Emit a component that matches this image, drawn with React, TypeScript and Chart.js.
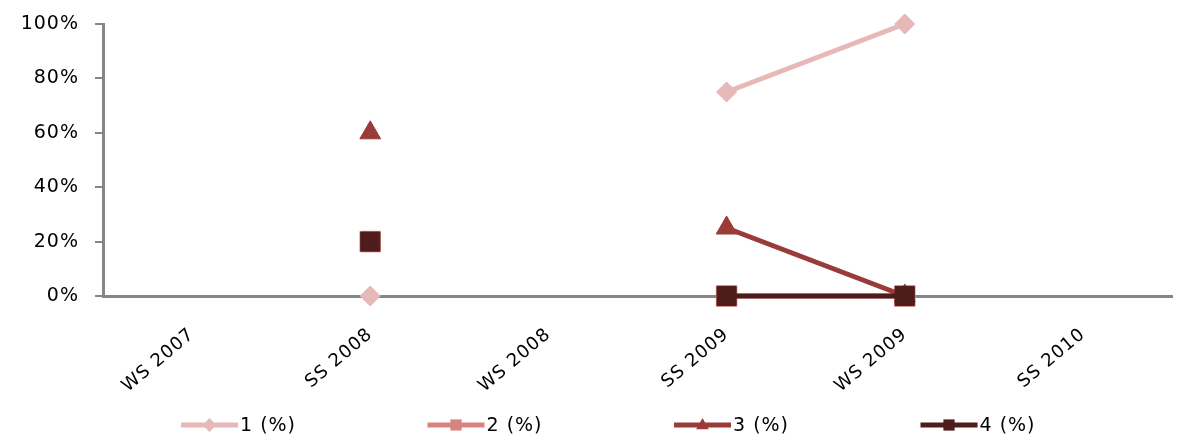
import React, { useEffect, useRef } from 'react';
import { Chart, registerables } from 'chart.js';

Chart.register(...registerables);

const categories = ['WS 2007', 'SS 2008', 'WS 2008', 'SS 2009', 'WS 2009', 'SS 2010'];
const series1 = [null, 0, null, 75, 100, null];
const series2 = [null, 20, null, 0, 0, null];
const series3 = [null, 60, null, 25, 0, null];
const series4 = [null, 20, null, 0, 0, null];
const seriesNames = ['1 (%)', '2 (%)', '3 (%)', '4 (%)'];
const yTickValues = [0, 20, 40, 60, 80, 100];

const colors = ['#E6B9B8', '#D9837F', '#993B38', '#4F1C1C'];
const pointStyles = ['rectRot', 'rect', 'triangle', 'rect'];
const pointRadii = [10, 14.5, 12, 13.5];

const FONT = '"DejaVu Sans", Verdana, sans-serif';
const SPACING = '1px';

const spacingPlugin = {
  id: 'letterSpacing',
  beforeLayout(chart: any) {
    (chart.ctx as any).letterSpacing = SPACING;
  },
  beforeDraw(chart: any) {
    (chart.ctx as any).letterSpacing = SPACING;
  },
};

function drawMarker(ctx: CanvasRenderingContext2D, style: string, x: number, y: number, r: number) {
  ctx.beginPath();
  if (style === 'rectRot') {
    ctx.moveTo(x, y - r);
    ctx.lineTo(x + r, y);
    ctx.lineTo(x, y + r);
    ctx.lineTo(x - r, y);
    ctx.closePath();
  } else if (style === 'triangle') {
    ctx.moveTo(x, y - r);
    ctx.lineTo(x + r * 0.9, y + r * 0.6);
    ctx.lineTo(x - r * 0.9, y + r * 0.6);
    ctx.closePath();
  } else {
    const s = r * 0.8;
    ctx.rect(x - s, y - s, 2 * s, 2 * s);
  }
  ctx.fill();
}

const legendPlugin = {
  id: 'customLegend',
  afterDraw(chart: any) {
    const ctx: CanvasRenderingContext2D = chart.ctx;
    ctx.save();
    (ctx as any).letterSpacing = SPACING;
    const y = 425;
    const startX = 181;
    const step = 246.5;
    const lineLen = 57;
    chart.data.datasets.forEach((ds: any, i: number) => {
      const x0 = startX + i * step;
      ctx.strokeStyle = ds.borderColor;
      ctx.fillStyle = ds.borderColor;
      ctx.lineWidth = 5;
      ctx.beginPath();
      ctx.moveTo(x0, y);
      ctx.lineTo(x0 + lineLen, y);
      ctx.stroke();
      drawMarker(ctx, pointStyles[i], x0 + lineLen / 2, y, 7);
      ctx.fillStyle = '#000000';
      ctx.font = `19px ${FONT}`;
      ctx.textAlign = 'left';
      ctx.textBaseline = 'middle';
      ctx.fillText(ds.label, x0 + lineLen + 2, y + 1);
    });
    ctx.restore();
  },
};

export default function App() {
  const canvasRef = useRef<HTMLCanvasElement | null>(null);

  useEffect(() => {
    if (!canvasRef.current) return;
    const allSeries = [series1, series2, series3, series4];
    const chart = new Chart(canvasRef.current, {
      type: 'line',
      data: {
        labels: categories,
        datasets: allSeries.map((data, i) => ({
          label: seriesNames[i],
          data,
          borderColor: colors[i],
          backgroundColor: colors[i],
          borderWidth: 5,
          pointStyle: pointStyles[i] as any,
          pointRadius: pointRadii[i],
          pointHoverRadius: pointRadii[i],
          pointBorderWidth: 1,
          pointBorderColor: colors[i],
          pointBackgroundColor: colors[i],
          spanGaps: false,
          clip: false as any,
          order: 4 - i,
          tension: 0,
        })),
      },
      options: {
        animation: false,
        responsive: true,
        maintainAspectRatio: false,
        layout: { autoPadding: false, padding: { top: 24, right: 6, left: 0, bottom: 0 } },
        plugins: {
          legend: { display: false },
          tooltip: { enabled: false },
        },
        scales: {
          x: {
            offset: true,
            grid: { display: false, drawTicks: false },
            border: { display: true, color: '#868686', width: 3 },
            ticks: {
              color: '#000000',
              font: { family: FONT, size: 18 },
              minRotation: 40,
              maxRotation: 40,
              padding: 28,
              autoSkip: false,
            },
            afterFit(scale: any) {
              scale.height = 144;
              scale.paddingLeft = 0;
              scale.paddingRight = 0;
            },
          },
          y: {
            min: 0,
            max: 100,
            afterBuildTicks(scale: any) {
              scale.ticks = yTickValues.map((v) => ({ value: v }));
            },
            grid: {
              display: true,
              drawOnChartArea: false,
              drawTicks: true,
              tickLength: 8,
              color: '#868686',
              lineWidth: 2,
            },
            border: { display: true, color: '#868686', width: 3 },
            ticks: {
              color: '#000000',
              font: { family: FONT, size: 19 },
              padding: 16,
              callback: (v: any) => `${v}%`,
            },
            afterFit(scale: any) {
              scale.width = 103;
              scale.paddingTop = 0;
              scale.paddingBottom = 0;
            },
          },
        },
      },
      plugins: [spacingPlugin, legendPlugin],
    });
    return () => chart.destroy();
  }, []);

  return (
    <div style={{ position: 'absolute', left: 0, top: 0, width: 1178, height: 440 }}>
      <canvas ref={canvasRef} />
    </div>
  );
}
